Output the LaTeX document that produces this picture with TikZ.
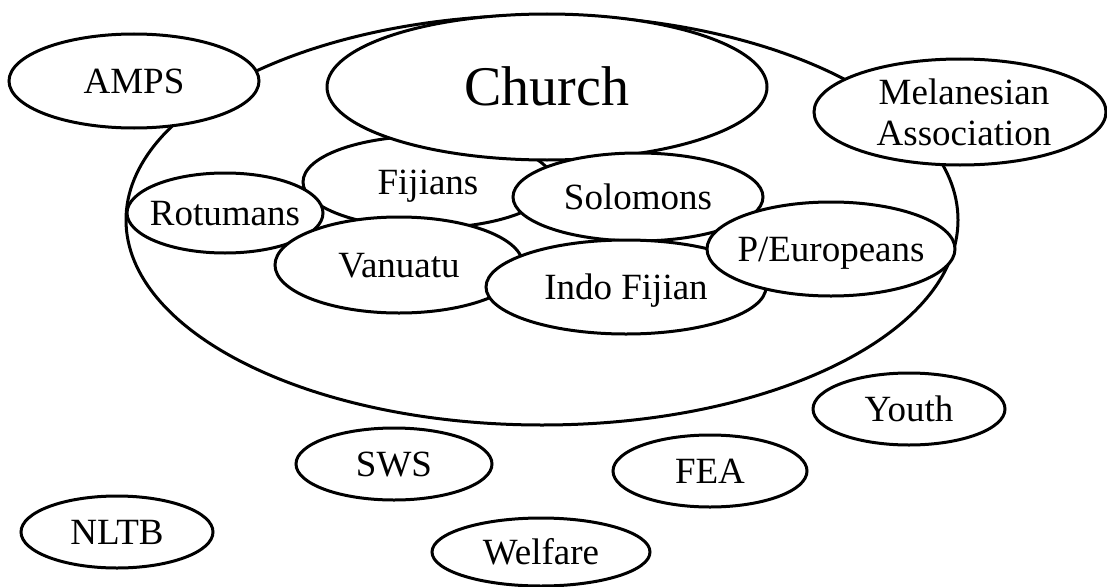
\documentclass[tikz,border=0pt]{standalone}
\usepackage{fontspec}
\setmainfont{Liberation Serif}
\usetikzlibrary{shapes.geometric}
\tikzset{
  blob/.style={ellipse, draw=black, fill=white, line width=3pt, inner sep=0pt},
  txt/.style={font=\fontsize{37}{41}\selectfont, inner sep=0pt, text height=24.5pt, text depth=0pt},
  bigtxt/.style={font=\fontsize{56}{60}\selectfont, inner sep=0pt, text height=37pt, text depth=0pt},
  twotxt/.style={font=\fontsize{37}{41}\selectfont, inner sep=0pt, align=center},
}
\begin{document}
\begin{tikzpicture}[x=1pt, y=-1pt]
\useasboundingbox[fill=white] (0,0) rectangle (1107,586);
\node[blob, minimum width=832, minimum height=410] (world) at (542,220) {};
\node[blob, minimum width=250, minimum height=94] (amps) at (134,81) {};
\node[txt] (ampst) at (amps) {AMPS};
\node[blob, minimum width=292, minimum height=106] (mel) at (960,112) {};
\node[twotxt] (melt) at ([xshift=4pt]mel.center) {Melanesian\\Association};
\node[blob, minimum width=250, minimum height=92] (fij) at (428,182) {};
\node[txt] (fijt) at (fij) {Fijians};
\node[blob, minimum width=440, minimum height=146] (church) at (547,87) {};
\node[bigtxt] (churcht) at (church) {Church};
\node[blob, minimum width=250, minimum height=88] (sol) at (638,197) {};
\node[txt] (solt) at (sol) {Solomons};
\node[blob, minimum width=196, minimum height=80] (rot) at (225,213) {};
\node[txt] (rott) at (rot) {Rotumans};
\node[blob, minimum width=248, minimum height=96] (van) at (399,265) {};
\node[txt] (vant) at (van) {Vanuatu};
\node[blob, minimum width=280, minimum height=94] (indo) at (626,287) {};
\node[txt] (indot) at (indo) {Indo Fijian};
\node[blob, minimum width=248, minimum height=94] (peu) at (831,249) {};
\node[txt] (peut) at (peu) {P/Europeans};
\node[blob, minimum width=192, minimum height=72] (youth) at (909,409) {};
\node[txt] (youtht) at (youth) {Youth};
\node[blob, minimum width=196, minimum height=72] (sws) at (394,464) {};
\node[txt] (swst) at (sws) {SWS};
\node[blob, minimum width=194, minimum height=72] (fea) at (710,471) {};
\node[txt] (feat) at (fea) {FEA};
\node[blob, minimum width=192, minimum height=72] (nltb) at (117,532) {};
\node[txt] (nltbt) at (nltb) {NLTB};
\node[blob, minimum width=218, minimum height=68] (welf) at (541,552) {};
\node[txt] (welft) at (welf) {Welfare};
\end{tikzpicture}
\end{document}
